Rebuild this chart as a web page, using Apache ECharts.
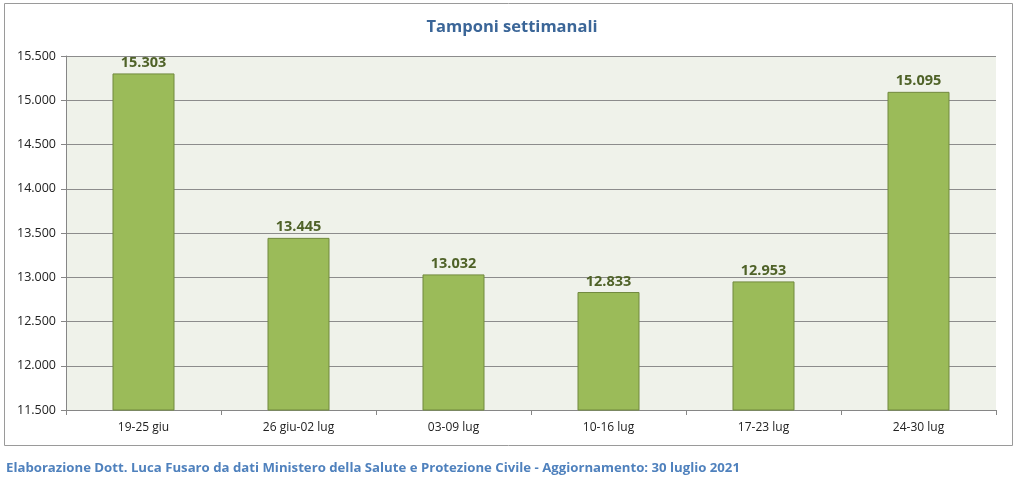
<!DOCTYPE html>
<html>
<head>
<meta charset="utf-8">
<script src="https://cdn.jsdelivr.net/npm/echarts@6/dist/echarts.min.js"></script>
<style>
html, body { margin: 0; padding: 0; background: #fff; }
#chart { width: 1024px; height: 490px; }
</style>
</head>
<body>
<div id="chart"></div>
<script>
// settimane e tamponi
var settimane = ['19-25 giu', '26 giu-02 lug', '03-09 lug', '10-16 lug', '17-23 lug', '24-30 lug'];
var tamponi = [15303, 13445, 13032, 12833, 12953, 15095];
var yMin = 11500, yMax = 15500, yStep = 500;

function formatIt(v) {
	return String(v).replace(/\B(?=(\d{3})+(?!\d))/g, '.');
}

var chart = echarts.init(document.getElementById('chart'));
var option = {
	backgroundColor : '#fff',
	animation : false,
	title : {
		text : 'Tamponi settimanali',
		left : 'center',
		top : 14,
		textStyle : {
			fontFamily : 'Open Sans',
			fontSize : 16.5,
			fontWeight : 'bold',
			color : '#3B6698'
		}
	},
	graphic : [ {
		type : 'rect',
		shape : { x : 4.5, y : 3.5, width : 1008, height : 442 },
		style : { fill : 'none', stroke : '#9a9a9a', lineWidth : 1 },
		silent : true
	}, {
		type : 'text',
		left : 6,
		top : 462,
		style : {
			text : 'Elaborazione Dott. Luca Fusaro da dati Ministero della Salute e Protezione Civile - Aggiornamento: 30 luglio 2021',
			fontFamily : 'Open Sans',
			fontSize : 13.2,
			fontWeight : 'bold',
			fill : '#4F81BD'
		}
	} ],
	grid : {
		left : 66,
		right : 28,
		top : 56,
		bottom : 80,
		show : true,
		backgroundColor : '#EFF2EA',
		borderColor : 'transparent'
	},
	xAxis : {
		type : 'category',
		data : settimane,
		axisLine : { lineStyle : { color : '#868686' } },
		axisTick : { show : true, length : 5, lineStyle : { color : '#868686' } },
		axisLabel : {
			margin : 12,
			fontFamily : 'Open Sans',
			fontSize : 12,
			color : '#222'
		}
	},
	yAxis : {
		type : 'value',
		min : yMin,
		max : yMax,
		interval : yStep,
		axisLine : { show : true, lineStyle : { color : '#868686' } },
		axisTick : { show : true, length : 5, lineStyle : { color : '#868686' } },
		splitLine : { lineStyle : { color : '#8c8c8c', width : 1 } },
		axisLabel : {
			margin : 10,
			fontFamily : 'Open Sans',
			fontSize : 12.5,
			color : '#222',
			formatter : function(v) { return formatIt(v); }
		}
	},
	series : [ {
		type : 'bar',
		data : tamponi,
		barWidth : '40%',
		itemStyle : {
			color : '#9BBB59',
			borderColor : '#71893F',
			borderWidth : 1
		},
		label : {
			show : true,
			position : 'top',
			distance : 3,
			fontFamily : 'Open Sans',
			fontSize : 14.5,
			fontWeight : 'bold',
			color : '#4F6228',
			formatter : function(p) { return formatIt(p.value); }
		}
	} ]
};
chart.setOption(option);
</script>
</body>
</html>
